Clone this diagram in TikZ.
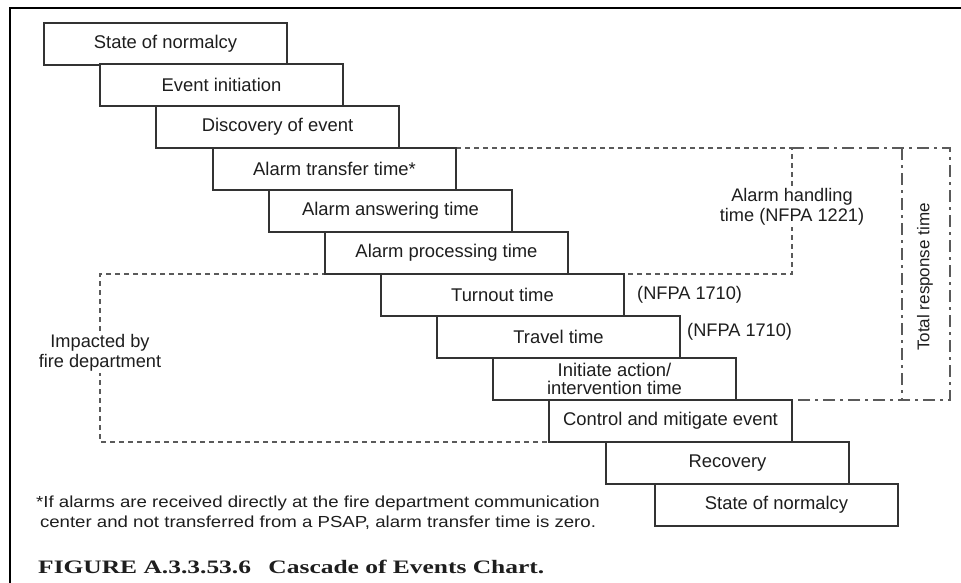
\documentclass[tikz,border=0pt]{standalone}
\usepackage{fontspec}
\setmainfont{Liberation Sans}
\newfontfamily\capfont{Liberation Serif}
\definecolor{boxline}{HTML}{333333}
\definecolor{ink}{HTML}{1E1E1E}
\definecolor{guide}{HTML}{5A5A5A}
\begin{document}
\begin{tikzpicture}[x=1pt,y=-1pt,
  stage/.style={draw=boxline, line width=1.6pt, fill=white, text=ink,
    minimum width=243pt, minimum height=42pt, inner sep=0pt, outer sep=0pt,
    anchor=north west, align=center,
    font=\fontsize{18.4pt}{17.5pt}\selectfont},
  note/.style={text=ink, inner sep=0pt, font=\fontsize{18.2pt}{20pt}\selectfont},
  shortdash/.style={draw=guide, line width=1.3pt, dash pattern=on 5pt off 4pt},
  dashdot/.style={draw=guide, line width=1.3pt, dash pattern=on 12pt off 5pt on 3pt off 5pt},
  gaplabel/.style={note, fill=white, inner sep=2pt, align=center}]
\useasboundingbox (0,0) rectangle (961,582);
\clip (0,0) rectangle (961,582);
\fill[white] (0,0) rectangle (961,582);

% outer frame
\coordinate (frBL) at (10,640);
\coordinate (frTL) at (10,8);
\coordinate (frTR) at (1000,8);
\draw[line width=1.8pt, black] (frBL) -- (frTL) -- (frTR);

% bracket corners
\coordinate (ahNE) at (792,148);
\coordinate (ahSE) at (792,274);
\coordinate (trNE) at (950,148);
\coordinate (trSE) at (950,400);
\coordinate (trT) at (902,148);
\coordinate (trB) at (902,400);
\coordinate (fdNW) at (100,274);
\coordinate (fdSW) at (100,442);

% cascade of stages
\node[stage] (b1)  at (44,23)   {State of normalcy};
\node[stage] (b2)  at (100,64)  {Event initiation};
\node[stage] (b3)  at (156,106) {Discovery of event};
\node[stage] (b4)  at (213,148) {Alarm transfer time*};
\node[stage] (b5)  at (269,190) {Alarm answering time};
\node[stage] (b6)  at (325,232) {Alarm processing time};
\node[stage] (b7)  at (381,274) {Turnout time};
\node[stage] (b8)  at (437,316) {Travel time};
\node[stage] (b9)  at (493,358) {Initiate action/\\intervention time};
\node[stage] (b10) at (549,400) {Control and mitigate event};
\node[stage] (b11) at (606,442) {Recovery};
\node[stage] (b12) at (655,484) {State of normalcy};

% bracket lines
\draw[shortdash] (b4.north east) -- (ahNE) -- (ahSE) -- (b6.south east);
\draw[dashdot] (ahNE) -- (trNE) -- (trSE) -- (b9.south east);
\draw[dashdot] (trT) -- (trB);
\draw[shortdash] (b7.north west) -- (fdNW) -- (fdSW) -- (b10.south west);

% redraw stage outlines over the bracket lines
\foreach \b in {b4,b6,b7,b9,b10}{
  \draw[boxline, line width=1.6pt] (\b.north west) rectangle (\b.south east);
}

% bracket labels
\node[gaplabel] (ahlab) at (792,207) {Alarm handling\\time (NFPA 1221)};
\node[gaplabel] (fdlab) at (100,353) {Impacted by\\fire department};
\node[gaplabel, rotate=90, font=\fontsize{17pt}{20pt}\selectfont] (trlab) at (925,277) {Total response time};
\node[note, anchor=west] (nf1) at (637,295) {(NFPA 1710)};
\node[note, anchor=west] (nf2) at (687,332) {(NFPA 1710)};

% footnote and caption
\node[note, align=center] (foot) at (318,513)
  {\scalebox{1.165}[1]{\fontsize{16pt}{19.5pt}\selectfont *If alarms are received directly at the fire department communication}\\
   \scalebox{1.165}[1]{\fontsize{16pt}{19.5pt}\selectfont center and not transferred from a PSAP, alarm transfer time is zero.}};
\node[anchor=base west, inner sep=0pt, text=ink, font=\capfont\bfseries\fontsize{19pt}{22pt}\selectfont]
  (cap) at (38,573) {\scalebox{1.34}[1]{FIGURE A.3.3.53.6\hspace{13pt}Cascade of Events Chart.}};
\end{tikzpicture}
\end{document}
